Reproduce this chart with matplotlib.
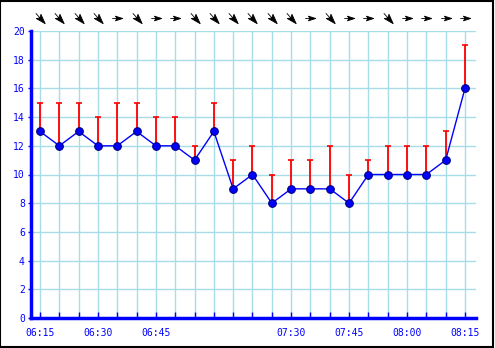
import matplotlib
matplotlib.use("Agg")
import matplotlib.pyplot as plt
import numpy as np
from matplotlib.path import Path
from matplotlib.patches import Rectangle
import matplotlib.transforms as mtransforms

# readings every ~5 minutes
times = ["06:15", "06:20", "06:25", "06:30", "06:35", "06:40", "06:45", "06:50",
         "06:55", "07:05", "07:10", "07:20", "07:25", "07:30", "07:35", "07:40",
         "07:45", "07:50", "07:55", "08:00", "08:05", "08:10", "08:15"]
speed = [13, 12, 13, 12, 12, 13, 12, 12, 11, 13, 9, 10, 8, 9, 9, 9, 8, 10, 10, 10, 10, 11, 16]
gust = [15, 15, 15, 14, 15, 15, 14, 14, 12, 15, 11, 12, 10, 11, 11, 12, 10, 11, 12, 12, 12, 13, 19]
wind_from = ["NW", "NW", "NW", "NW", "W", "NW", "W", "W", "NW", "NW", "NW", "NW",
             "NW", "NW", "W", "NW", "W", "W", "NW", "W", "W", "W", "W"]

compass = {"N": 90, "NE": 45, "E": 0, "SE": -45, "S": -90, "SW": -135, "W": 180, "NW": 132}

blue = "#0000ff"
grid_col = "#a8dce6"

x = np.arange(len(times))

fig = plt.figure(figsize=(4.95, 3.48), dpi=100)
fig.patch.set_facecolor("white")
ax = fig.add_axes([31 / 495, 30 / 348, 445 / 495, 287 / 348])

ax.set_xlim(-0.466, len(times) - 1 + 0.57)
ax.set_ylim(0, 20)

# grid
ax.set_axisbelow(True)
ax.grid(True, color=grid_col, linewidth=1)

# gust bars
ax.errorbar(x, speed, yerr=[np.zeros(len(x)), np.array(gust) - np.array(speed)],
            fmt="none", ecolor="red", elinewidth=1.3, capsize=2.5, capthick=1.2, zorder=3)
# wind speed line
ax.plot(x, speed, color=blue, linewidth=1, zorder=4)
ax.plot(x, speed, "o", markersize=5.5, markerfacecolor=blue, markeredgecolor="#000080",
        markeredgewidth=0.8, zorder=5)

# axes styling
for s in ["top", "right"]:
    ax.spines[s].set_visible(False)
for s in ["left", "bottom"]:
    ax.spines[s].set_color(blue)
    ax.spines[s].set_linewidth(2.5)

ax.set_yticks(np.arange(0, 21, 2))
ax.set_xticks(x)
ax.set_xticklabels([t if int(t[3:]) % 15 == 0 else "" for t in times])
ax.tick_params(axis="y", direction="out", length=2.5, width=1, color=blue,
               labelcolor=blue, labelsize=7, pad=2)
ax.tick_params(axis="x", direction="in", length=4, width=1, color=blue,
               labelcolor=blue, labelsize=7, pad=7)
for lab in ax.get_xticklabels() + ax.get_yticklabels():
    lab.set_family("DejaVu Sans Mono")

# wind direction arrows above plot
arrow_verts = [(1.0, 0.0), (-0.4, 0.45), (-0.1, 0.0), (-0.4, -0.45), (1.0, 0.0),
               (-1.0, 0.0), (-0.1, 0.0)]
arrow_codes = [Path.MOVETO, Path.LINETO, Path.LINETO, Path.LINETO, Path.CLOSEPOLY,
               Path.MOVETO, Path.LINETO]
trans = mtransforms.blended_transform_factory(ax.transData, ax.transAxes)
for xi, d in zip(x, wind_from):
    ang = compass[d] + 180  # arrow points where the wind goes
    rot = mtransforms.Affine2D().rotate_deg(ang)
    verts = rot.transform(np.array(arrow_verts))
    marker = Path(verts, arrow_codes)
    ax.plot(xi, 1.045, marker=marker, markersize=7.5, color="black",
            markeredgewidth=0.6, transform=trans, clip_on=False)

# outer frame
fig.patches.append(Rectangle((0.001, 0.004), 0.995, 0.994, transform=fig.transFigure,
                             fill=False, edgecolor="black", linewidth=1.5))

fig.savefig("out.png", dpi=100, facecolor="white")
